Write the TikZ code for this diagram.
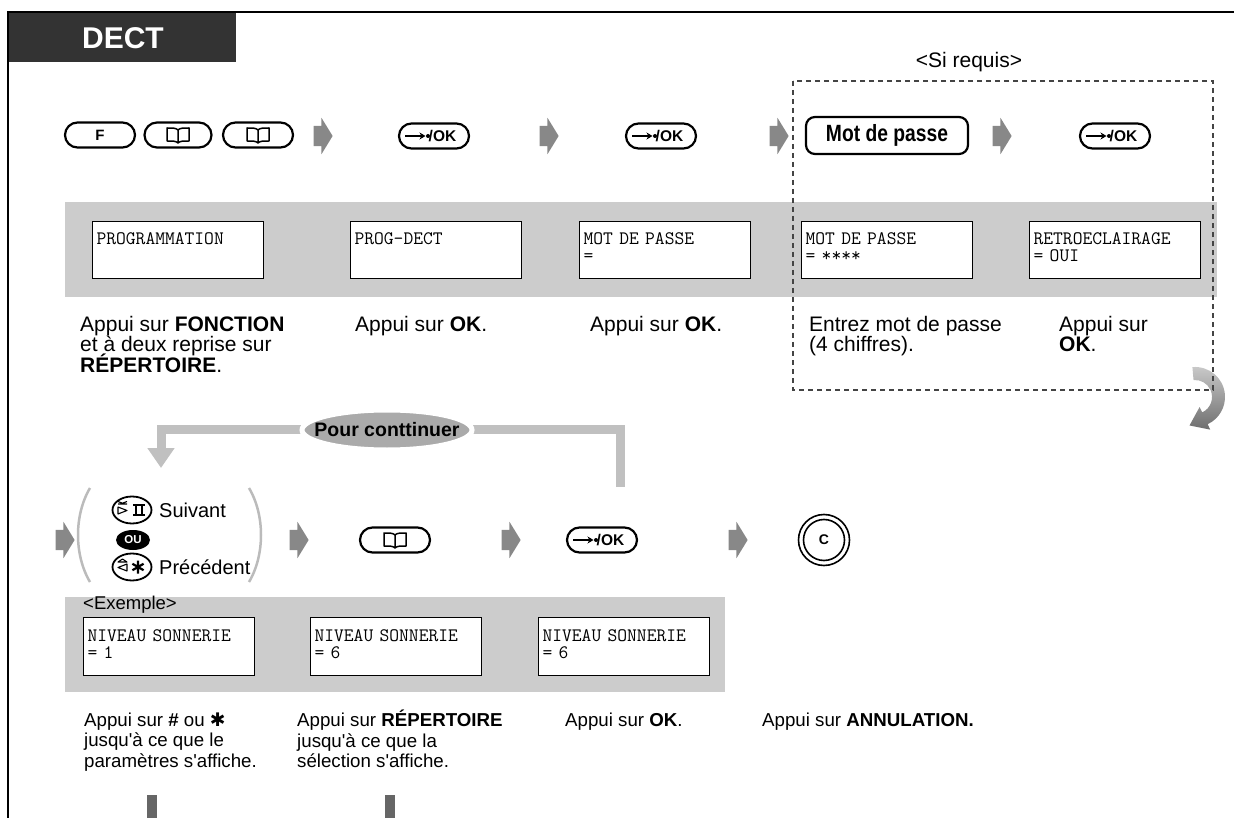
\documentclass[tikz,border=0pt]{standalone}
\usepackage{fontspec}
\newfontfamily\arial{Liberation Sans}
\newfontfamily\narrow[FakeStretch=0.82]{Liberation Sans}
\newfontfamily\djv{DejaVu Sans}
\usetikzlibrary{shapes.misc,shapes.arrows,shapes.geometric,arrows.meta}
\definecolor{hdr}{HTML}{333333}
\definecolor{band}{HTML}{CCCCCC}
\definecolor{arr}{HTML}{888888}
\definecolor{loopc}{HTML}{C0C0C0}
\definecolor{ovalc}{HTML}{AAAAAA}
\definecolor{dashc}{HTML}{444444}
\definecolor{barc}{HTML}{666666}
\definecolor{parc}{HTML}{BBBBBB}
\definecolor{curvtop}{HTML}{CACACA}
\definecolor{curvbot}{HTML}{6E6E6E}
\newcommand\tightlines{\lineskiplimit-50pt\relax}
\newcommand\bookicon[1]{\draw[line width=1.5pt, line join=round, shift={(#1.center)}]
  (-11,7) -- (-11,-6) .. controls (-5,-6) and (-2,-6) .. (0,-8) .. controls (2,-6) and (5,-6) .. (11,-6)
  -- (11,7) .. controls (5,7) and (2,7) .. (0,5) .. controls (-2,7) and (-5,7) .. (-11,7) -- cycle
  (0,5) -- (0,-8);}
\newcommand\okicon[1]{\begin{scope}[shift={(#1.center)}]
  \draw[line width=1.8pt,-{Stealth[length=6pt,width=7pt]}] (-29,0) -- (-8.5,0);
  \fill (-6,0) circle (2pt);
  \node[anchor=west, inner sep=0pt, font=\arial\bfseries\fontsize{15.5}{15.5}\selectfont] (#1t) at (-5.5,0) {/OK};
\end{scope}}
\begin{document}
\begin{tikzpicture}[x=1pt,y=1pt,
  pill/.style={rounded rectangle, draw, line width=2.2pt, fill=white, minimum width=70pt, minimum height=25pt, inner sep=0pt},
  garrow/.style={single arrow, fill=arr, draw=none, inner xsep=0pt, inner ysep=10pt, minimum height=19pt, single arrow head extend=8pt, single arrow tip angle=117},
  screen/.style={draw, line width=1.2pt, fill=white, minimum width=171pt, minimum height=57pt, text width=163pt, align=left, inner xsep=4pt, inner ysep=0pt, font=\ttfamily\fontsize{19}{17}\selectfont, anchor=north west},
  captxt/.style={anchor=north west, inner sep=0pt, align=left, font=\arial\fontsize{21}{20.5}\selectfont\tightlines},
  lcaptxt/.style={anchor=north west, inner sep=0pt, align=left, font=\arial\fontsize{18.7}{20.5}\selectfont\tightlines},
  ekey/.style={ellipse, draw, line width=1.8pt, fill=white, minimum width=39pt, minimum height=27pt, inner sep=0pt},
  glyph/.style={line width=1.1pt, line join=round}]
\useasboundingbox (0,0) rectangle (1234,-818);
% frame and header
\fill[hdr] (8,-12) rectangle (236,-62);
\draw[line width=2.5pt] (8,-818) -- (8,-12) -- (1234,-12);
\node[text=white, font=\arial\bfseries\fontsize{30}{30}\selectfont] (title) at (123,-38) {DECT};
% top row keys
\node[pill] (kF) at (100,-135) {\arial\bfseries\fontsize{15}{15}\selectfont F};
\node[pill, minimum width=67pt] (kB1) at (178,-135) {};
\node[pill] (kB2) at (258,-135) {};
\bookicon{kB1}
\bookicon{kB2}
\node[garrow] (a1) at (320,-136) {};
\node[pill] (kOK1) at (434,-136) {};
\okicon{kOK1}
\node[garrow] (a2) at (546,-136) {};
\node[pill] (kOK2) at (661,-136) {};
\okicon{kOK2}
\node[garrow] (a3) at (776,-136) {};
\node[draw, line width=2.2pt, rounded corners=9pt, minimum width=162pt, minimum height=37pt, fill=white, font=\narrow\bfseries\fontsize{23.5}{23.5}\selectfont] (kMdp) at (887,-135.5) {Mot de passe};
\node[garrow] (a4) at (999,-136) {};
\node[pill] (kOK3) at (1115,-136) {};
\okicon{kOK3}
% screens band 1
\fill[band] (65,-202) rectangle (1217,-297);
\node[screen] (s1) at (92,-221) {\strut PROGRAMMATION\\\strut};
\node[screen] (s2) at (350,-221) {\strut PROG-DECT\\\strut};
\node[screen] (s3) at (579,-221) {\strut MOT DE PASSE\\\strut=};
\node[screen] (s4) at (801,-221) {\strut MOT DE PASSE\\\strut= ****};
\node[screen] (s5) at (1029,-221) {\strut RETROECLAIRAGE\\\strut= OUI};
% captions row 1
\node[captxt] (c1) at (80,-313) {\vphantom{É}Appui sur \textbf{FONCTION}\\et à deux reprise sur\\\textbf{RÉPERTOIRE}.};
\node[captxt] (c2) at (355,-313) {\vphantom{É}Appui sur \textbf{OK}.};
\node[captxt] (c3) at (590,-313) {\vphantom{É}Appui sur \textbf{OK}.};
\node[captxt] (c4) at (809,-313) {\vphantom{É}Entrez mot de passe\\(4 chiffres).};
\node[captxt] (c5) at (1059,-313) {\vphantom{É}Appui sur\\\textbf{OK}.};
% curved return arrow
\shade[top color=curvtop, bottom color=curvbot]
  (1192.4,-367.1) arc[start angle=95, end angle=-65, radius=30]
  -- (1210.2,-429.6) -- (1189.5,-425.5) -- (1199.6,-407.0) -- (1202.2,-412.4)
  arc[start angle=-65, end angle=95, radius=17] -- cycle;
% optional (dashed) box
\draw[dashc, line width=2.5pt, dash pattern=on 5pt off 4pt] (793,-81) rectangle (1213,-390);
\node[font=\arial\fontsize{21}{21}\selectfont] (req) at (969,-62) {<Si requis>};
% loop connector
\coordinate (loopS) at (620,-487);
\coordinate (loopE) at (161,-468);
\draw[loopc, line width=9pt, -{Triangle[length=20pt,width=26pt]}] (loopS) -- (620,-429) -- (161,-429) -- (loopE);
\node[ellipse, fill=ovalc, draw=white, line width=5pt, minimum width=170pt, minimum height=40pt] (contbg) at (387,-430) {};
\node[font=\arial\bfseries\fontsize{19.5}{19.5}\selectfont] (cont) at (contbg.center) {Pour conttinuer};
% second row
\node[garrow] (b0) at (62,-540) {};
\draw[parc, line width=2.5pt] (90,-488) .. controls (74,-515) and (74,-555) .. (90,-582);
\draw[parc, line width=2.5pt] (249,-488) .. controls (265,-515) and (265,-555) .. (249,-582);
\node[ekey] (kNext) at (132,-510) {};
\begin{scope}[shift={(kNext.center)}]
  \draw[glyph] (-14,6) -- (-5,6) (-14,8.5) -- (-9.5,6.8) -- (-5,8.5);
  \draw[glyph] (-14,3) -- (-5,-0.5) -- (-14,-4) -- cycle;
  \draw[line width=1.9pt] (1,5) -- (13,5) (1,-5) -- (13,-5) (4,5) -- (4,-5) (10,5) -- (10,-5);
\end{scope}
\node[anchor=west, inner sep=0pt, font=\arial\fontsize{20}{20}\selectfont] (tNext) at (159,-510) {Suivant};
\node[ellipse, fill=black, minimum width=34pt, minimum height=20pt, inner sep=0pt, text=white, font=\arial\bfseries\fontsize{11.5}{11.5}\selectfont] (ou) at (133,-540) {OU};
\node[ekey] (kPrev) at (132,-567) {};
\begin{scope}[shift={(kPrev.center)}]
  \draw[glyph] (-14,5) -- (-9.5,8) -- (-5,5) -- cycle;
  \draw[glyph] (-5,3) -- (-14,-0.5) -- (-5,-4) -- cycle;
  \draw[line width=2.2pt] (6,6.5) -- (6,-6.5) (11.6,3.25) -- (0.4,-3.25) (0.4,3.25) -- (11.6,-3.25);
\end{scope}
\node[anchor=west, inner sep=0pt, font=\arial\fontsize{20}{20}\selectfont] (tPrev) at (159,-567) {Précédent};
\node[garrow] (b1) at (296,-540) {};
\node[pill] (kB3) at (395,-540) {};
\bookicon{kB3}
\node[garrow] (b2) at (508,-540) {};
\node[pill] (kOK4) at (602,-540) {};
\okicon{kOK4}
\node[garrow] (b3) at (735,-540) {};
\node[circle, draw, line width=1.6pt, minimum size=51pt, inner sep=0pt] (kC) at (824,-540) {};
\node[circle, draw, line width=1.6pt, minimum size=41pt, inner sep=0pt, font=\arial\bfseries\fontsize{14}{14}\selectfont] (kCi) at (kC.center) {C};
% band 2
\fill[band] (65,-597) rectangle (725,-692);
\node[anchor=south west, inner sep=0pt, font=\arial\fontsize{18.5}{18.5}\selectfont] (ex) at (83,-614) {<Exemple>};
\node[screen, minimum width=170pt, minimum height=58pt] (s6) at (83,-617) {\strut NIVEAU SONNERIE\\\strut= 1};
\node[screen, minimum width=170pt, minimum height=58pt] (s7) at (310,-617) {\strut NIVEAU SONNERIE\\\strut= 6};
\node[screen, minimum width=170pt, minimum height=58pt] (s8) at (538,-617) {\strut NIVEAU SONNERIE\\\strut= 6};
% captions row 2
\node[lcaptxt] (c6) at (84,-710) {\vphantom{É}Appui sur \textbf{\#} ou {\djv ✱}\\jusqu'à ce que le\\paramètres s'affiche.};
\node[lcaptxt] (c7) at (297,-710) {\vphantom{É}Appui sur \textbf{RÉPERTOIRE}\\jusqu'à ce que la\\sélection s'affiche.};
\node[lcaptxt] (c8) at (565,-710) {\vphantom{É}Appui sur \textbf{OK}.};
\node[lcaptxt] (c9) at (762,-710) {\vphantom{É}Appui sur \textbf{ANNULATION.}};
% continuation bars
\fill[barc] (147,-795) rectangle (157,-818);
\fill[barc] (385,-795) rectangle (395,-818);
\end{tikzpicture}
\end{document}
